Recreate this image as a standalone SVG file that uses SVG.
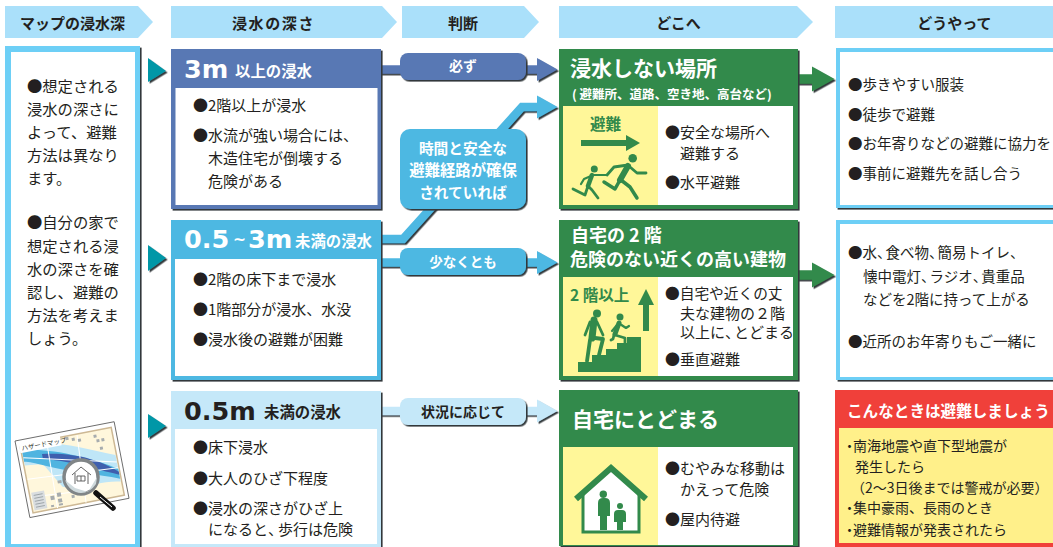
<svg xmlns="http://www.w3.org/2000/svg" width="1053" height="547" viewBox="0 0 1053 547">
<style>
text{font-family:"Noto Sans CJK JP","Noto Sans",sans-serif;fill:#231f20}
.t{font-size:15px}
.l{font-size:15.3px}
.r{font-size:14.5px}
.s{font-size:14px}
.h{font-size:15px;font-weight:700;text-anchor:middle}
.w{fill:#fff;font-weight:700}
.n{font-family:"DejaVu Sans",sans-serif;font-size:25.500px;font-weight:700}
.u{font-size:15.400px;font-weight:700}
.p{font-size:14px;font-weight:700;text-anchor:middle}
.g{fill:#328a4b;font-weight:700;font-size:15.500px}
.k{letter-spacing:-6px}
.d{letter-spacing:-3.500px}
.chev{fill:#aae0fa}
.sh{filter:url(#ds)}
.tri{fill:#0097a7;filter:url(#ds)}
.c{fill:none;stroke-width:8.500;stroke-linejoin:miter}
.fig{fill:none;stroke:#328a4b;stroke-linecap:round;stroke-linejoin:round}
.gf{fill:#328a4b}
</style>
<defs>
<filter id="ds" filterUnits="userSpaceOnUse" x="0" y="0" width="1053" height="547"><feDropShadow dx="1.600" dy="1.600" stdDeviation="0" flood-color="#33383b"/></filter>
<marker id="hB" markerUnits="userSpaceOnUse" markerWidth="22" markerHeight="24" refX="0" refY="12" orient="auto"><path d="M0 0.500L20.500 12L0 23.500Z" fill="#5878b4"/></marker>
<marker id="hS" markerUnits="userSpaceOnUse" markerWidth="22" markerHeight="24" refX="0" refY="12" orient="auto"><path d="M0 0.500L20.500 12L0 23.500Z" fill="#4db8e2"/></marker>
<marker id="hP" markerUnits="userSpaceOnUse" markerWidth="22" markerHeight="24" refX="0" refY="12" orient="auto"><path d="M0 0.500L20.500 12L0 23.500Z" fill="#c5e8f9"/></marker>
<marker id="hG" markerUnits="userSpaceOnUse" markerWidth="24" markerHeight="26" refX="0" refY="13" orient="auto"><path d="M0 0.500L22.500 13L0 25.500Z" fill="#328a4b"/></marker>
</defs>
<rect width="1053" height="547" fill="#fff"/>

<g id="headers">
<polygon class="chev" points="5,6 138,6 153,22 138,38 5,38"/>
<polygon class="chev" points="171,6 382,6 397,22 382,38 171,38"/>
<polygon class="chev" points="402,6 524,6 539,22 524,38 402,38"/>
<polygon class="chev" points="559,6 797,6 813,22 797,38 559,38"/>
<rect class="chev" x="835" y="6" width="220" height="32"/>
<text class="h" x="72.500" y="29">マップの浸水深</text>
<text class="h" x="273.500" y="29" style="letter-spacing:1.600px">浸水の深さ</text>
<text class="h" x="463" y="29">判断</text>
<text class="h" x="678.500" y="29">どこへ</text>
<text class="h" x="954.500" y="29">どうやって</text>
</g>

<g id="connectors">
<g class="sh"><path class="c" stroke="#5878b4" marker-end="url(#hB)" d="M380 69.500H537"/></g>
<g class="sh"><path class="c" stroke="#4db8e2" marker-end="url(#hS)" d="M380 239H403L522 107H537"/></g>
<g class="sh"><path class="c" stroke="#4db8e2" marker-end="url(#hS)" d="M380 262.500H537"/></g>
<g class="sh"><path class="c" stroke="#c5e8f9" marker-end="url(#hP)" d="M380 411H537"/></g>
<g class="sh"><path class="c" stroke="#328a4b" style="stroke-width:9.500px" marker-end="url(#hG)" d="M797 79H812"/></g>
<g class="sh"><path class="c" stroke="#328a4b" style="stroke-width:9.500px" marker-end="url(#hG)" d="M797 275H812"/></g>
</g>

<polygon class="tri" points="148,58 166,71 148,82"/>
<polygon class="tri" points="148,245 166,258 148,271"/>
<polygon class="tri" points="148,414 166,426 148,438"/>

<g id="panel-map">
<rect x="5" y="46" width="135" height="501" fill="#6dcff6" class="sh"/>
<rect x="11" y="52" width="124" height="492" fill="#fff"/>
<text class="l" x="27" y="92">●想定される</text>
<text class="l" x="27" y="115">浸水の深さに</text>
<text class="l" x="27" y="138">よって、避難</text>
<text class="l" x="27" y="161">方法は異なり</text>
<text class="l" x="27" y="184">ます。</text>
<text class="l" x="27" y="228">●自分の家で</text>
<text class="l" x="27" y="252">想定される浸</text>
<text class="l" x="27" y="275">水の深さを確</text>
<text class="l" x="27" y="298">認し、避難の</text>
<text class="l" x="27" y="321">方法を考えま</text>
<text class="l" x="27" y="344">しょう。</text>
<g transform="translate(15 441) rotate(-11)">
<rect x="0" y="0" width="101" height="78" fill="#fff" stroke="#555" stroke-width=".8"/>
<rect x="4" y="5" width="93" height="69" fill="#fff7dc" stroke="#cdb894" stroke-width="1.500"/>
<path d="M5 8L27 7C50 12 75 24 96 33V60C80 56 65 58 55 60L38 54L23 28L5 26Z" fill="#bfe6f7"/>
<path d="M5 11C30 12 70 30 96 47V57C75 48 50 42 25 30C15 25 10 23 5 22Z" fill="#4fb4e0"/>
<path d="M24 18C40 20 60 26 70 32C80 37 90 44 96 50V53C80 46 60 36 40 28C34 26 28 24 24 22Z" fill="#3f5fae"/>
<path d="M31 5L29 74M62 6L58 74M5 40L96 46M5 58L55 62M5 18L96 40" stroke="#fff" stroke-width="1" fill="none"/>
<rect x="3" y="3" width="42" height="10" fill="#fff"/>
<text x="5" y="11" style="font-size:6.500px" fill="#555">ハザードマップ</text>
<path d="M6 54h13v18H6z" fill="#d9dde0"/>
<path d="M8 57h9M8 60h9M8 63h9M8 66h9M8 69h9" stroke="#8a9296" stroke-width=".7"/>
<path d="M24 61h4v4h-4zM31 65h4v4h-4zM31 59h4v4h-4zM31 70h4v2h-4zM23 70h3v2h-3zM34 47h4v3h-4zM50 6h3v3h-3zM56 8h3v3h-3zM62 10h3v3h-3zM45 64h3v3h-3zM78 9h3v3h-3zM80 14h3v3h-3zM85 14h3v3h-3zM82 22h3v3h-3z" fill="#a7acae"/>
</g>
<path d="M96 493L113 508" stroke="#111" stroke-width="5.500" stroke-linecap="round"/>
<path d="M100 497L112 507" stroke="#fff" stroke-width="1"/>
<circle cx="81" cy="477" r="17" fill="#fff" stroke="#808587" stroke-width="3.500"/>
<path d="M65 480L75 488L88 492L97 477L96 484C92 490 86 493 81 493C74 493 68 488 65 480Z" fill="#cfdadd"/>
<path d="M72 475L81 467L91 475M75 473V484M88 473V484M77 476H85V481H77ZM81 476V481" fill="none" stroke="#555" stroke-width=".9"/>
</g>

<g id="depth-3m">
<rect class="sh" x="171" y="49" width="210" height="160" fill="#5878b4"/>
<rect x="175.500" y="88" width="202" height="117" fill="#fff"/>
<text class="n w" x="184" y="78">3m</text>
<text class="u w" x="235" y="77">以上の浸水</text>
<text class="t" x="193" y="111">●2階以上が浸水</text>
<text class="t" x="193" y="141">●水流が強い場合には、</text>
<text class="t" x="208" y="164">木造住宅が倒壊する</text>
<text class="t" x="208" y="187">危険がある</text>
</g>

<g id="depth-05-3m">
<rect class="sh" x="171" y="220" width="210" height="160" fill="#4db8e2"/>
<rect x="175" y="259" width="202" height="117" fill="#fff"/>
<text class="n w" x="184" y="248">0.5</text>
<text class="n w" x="233" y="245" style="font-size:15.500px">~</text>
<text class="n w" x="248" y="248">3m</text>
<text class="u w" x="295" y="247">未満の浸水</text>
<text class="t" x="193" y="285">●2階の床下まで浸水</text>
<text class="t" x="193" y="315">●1階部分が浸水、水没</text>
<text class="t" x="193" y="345">●浸水後の避難が困難</text>
</g>

<g id="depth-05m">
<rect class="sh" x="171" y="391" width="210" height="160" fill="#c5e8f9"/>
<rect x="175" y="429" width="202" height="115" fill="#fff"/>
<text class="n" x="184" y="420">0.5m</text>
<text class="u" x="264" y="418">未満の浸水</text>
<text class="t" x="193" y="453">●床下浸水</text>
<text class="t" x="193" y="484">●大人のひざ下程度</text>
<text class="t" x="193" y="514">●浸水の深さがひざ上</text>
<text class="t" x="208" y="535">になると<tspan style="letter-spacing:-5px">、</tspan>歩行は危険</text>
</g>

<g id="pill-must">
<rect class="sh" x="400" y="53" width="126" height="27" rx="8" fill="#5878b4"/>
<text class="p w" x="463" y="71">必ず</text>
</g>
<g id="pill-time">
<rect class="sh" x="400" y="129" width="126" height="80" rx="10" fill="#4db8e2"/>
<text class="p w" x="463" y="154" style="font-size:14.700px">時間と安全な</text>
<text class="p w" x="463" y="176" style="font-size:15.400px">避難経路が確保</text>
<text class="p w" x="463" y="198" style="font-size:14.700px">されていれば</text>
</g>
<g id="pill-least">
<rect class="sh" x="400" y="248" width="126" height="27" rx="8" fill="#4db8e2"/>
<text class="p w" x="463" y="267" style="font-size:13.500px">少なくとも</text>
</g>
<g id="pill-situation">
<rect class="sh" x="400" y="398" width="126" height="27" rx="8" fill="#c5e8f9"/>
<text class="p" x="463" y="417">状況に応じて</text>
</g>

<g id="where-safe">
<rect class="sh" x="559" y="49" width="239" height="160" fill="#328a4b"/>
<rect x="563" y="106" width="95" height="99" fill="#fff799"/>
<rect x="658" y="106" width="135" height="99" fill="#fff"/>
<text class="w" x="570" y="76" style="font-size:21px">浸水しない場所</text>
<text class="w" x="572" y="99" style="font-size:12.500px">( 避難所、道路、空き地、高台など)</text>
<text class="g" x="590" y="130">避難</text>
<path class="gf" d="M581 140H626V135L640 143L626 151V146H581Z"/>
<circle class="gf" cx="632.700" cy="158.300" r="4.300"/>
<g class="fig">
<path d="M628 166L620 180" stroke-width="6"/>
<path d="M628 165L614 167L607 175M630 167L637 173L646 173" stroke-width="2.800"/>
<path d="M621 180L630 187L637 198M620 180L615 189L604 182" stroke-width="3.500"/>
</g>
<circle class="gf" cx="594.300" cy="169" r="3.500"/>
<g class="fig">
<path d="M592 175L588 186" stroke-width="4.500"/>
<path d="M593 175L607 175M591 176L584 179L581 184" stroke-width="2.200"/>
<path d="M588 186L592 190L598 198M588 186L585 195L573 189" stroke-width="2.800"/>
</g>
<text class="t" x="665" y="138">●安全な場所へ</text>
<text class="t" x="680" y="159">避難する</text>
<text class="t" x="665" y="188">●水平避難</text>
</g>

<g id="where-high">
<rect class="sh" x="559" y="220" width="239" height="160" fill="#328a4b"/>
<rect x="563" y="277" width="95" height="99" fill="#fff799"/>
<rect x="658" y="277" width="135" height="99" fill="#fff"/>
<text class="w" x="571" y="242" style="font-size:18px">自宅の 2 階</text>
<text class="w" x="570" y="266" style="font-size:18px">危険のない近くの高い建物</text>
<text class="g" x="570" y="301">2 階以上</text>
<path class="gf" d="M646 289L654 305H649V331H643V305H638Z"/>
<path class="gf" d="M578 372V362H592V355H606V349H617V343H627V337H641V372Z"/>
<circle class="gf" cx="597" cy="313.500" r="4"/>
<g class="fig">
<path d="M594 320L592 338" stroke-width="7"/>
<path d="M590 322L585 335M597 322L603 335" stroke-width="2.800"/>
<path d="M595 338L603 339L599 355M590 340L587 361" stroke-width="3.800"/>
</g>
<circle class="gf" cx="620" cy="317" r="3.500"/>
<g class="fig">
<path d="M619 323L615 334" stroke-width="5"/>
<path d="M620 324L626 328L629 326M617 325L612 331" stroke-width="2.200"/>
<path d="M615 335L625 338L625 344M614 335L613 339L611 340" stroke-width="2.800"/>
</g>
<text class="t" x="665" y="299" style="font-size:14.700px">●自宅や近くの丈</text>
<text class="t" x="680" y="319">夫な建物の２階</text>
<text class="t" x="680" y="338">以上に<tspan class="k">、</tspan>とどまる</text>
<text class="t" x="665" y="365">●垂直避難</text>
</g>

<g id="where-home">
<rect class="sh" x="559" y="390" width="239" height="156" fill="#328a4b"/>
<rect x="563" y="447" width="95" height="98" fill="#fff799"/>
<rect x="658" y="447" width="135" height="98" fill="#fff"/>
<text class="w" x="572" y="427" style="font-size:21px">自宅にとどまる</text>
<path d="M583 494L611 470L639 494V532H583Z" fill="#fff"/>
<path d="M583 494V532H639V494" fill="none" stroke="#328a4b" stroke-width="3"/>
<path d="M576 499L611 468L646 499" fill="none" stroke="#328a4b" stroke-width="6"/>
<circle class="gf" cx="603.300" cy="494.300" r="3.700"/>
<path class="gf" d="M598 503Q598 498 603 498H605Q610 498 610 503V516H607V530H600V516H598Z"/>
<circle class="gf" cx="620" cy="506" r="3"/>
<path class="gf" d="M614 514Q614 510 618 510H622Q626 510 626 514V522H623V530H617V522H614Z"/>
<text class="t" x="665" y="474">●むやみな移動は</text>
<text class="t" x="680" y="495">かえって危険</text>
<text class="t" x="665" y="525">●屋内待避</text>
</g>

<g id="how-1">
<rect class="sh" x="836" y="48" width="225" height="160" fill="#6dcff6"/>
<rect x="840" y="52" width="220" height="153" fill="#fff"/>
<text class="r" x="848" y="90">●歩きやすい服装</text>
<text class="r" x="848" y="120">●徒歩で避難</text>
<text class="r" x="848" y="149">●お年寄りなどの避難に協力を</text>
<text class="r" x="848" y="179">●事前に避難先を話し合う</text>
</g>

<g id="how-2">
<rect class="sh" x="836" y="220" width="225" height="160" fill="#6dcff6"/>
<rect x="840" y="224" width="220" height="153" fill="#fff"/>
<text class="r" x="848" y="258">●水<tspan class="k">、</tspan>食べ物<tspan class="k">、</tspan>簡易トイレ、</text>
<text class="r" x="863" y="282">懐中電灯<tspan class="k">、</tspan>ラジオ<tspan class="k">、</tspan>貴重品</text>
<text class="r" x="863" y="305">などを2階に持って上がる</text>
<text class="r" x="848" y="347">●近所のお年寄りもご一緒に</text>
</g>

<g id="when">
<rect x="835" y="390" width="225" height="157" fill="#f0403a"/>
<rect x="839" y="428" width="220" height="115" fill="#fff08a"/>
<text class="w" x="847" y="417" style="font-size:15.600px">こんなときは避難しましょう</text>
<text class="s" x="842.500" y="451"><tspan class="d">・</tspan>南海地震や直下型地震が</text>
<text class="s" x="855" y="472">発生したら</text>
<text class="s" x="851" y="493">（2～3日後までは警戒が必要）</text>
<text class="s" x="842.500" y="513"><tspan class="d">・</tspan>集中豪雨、長雨のとき</text>
<text class="s" x="842.500" y="535"><tspan class="d">・</tspan>避難情報が発表されたら</text>
</g>
</svg>
